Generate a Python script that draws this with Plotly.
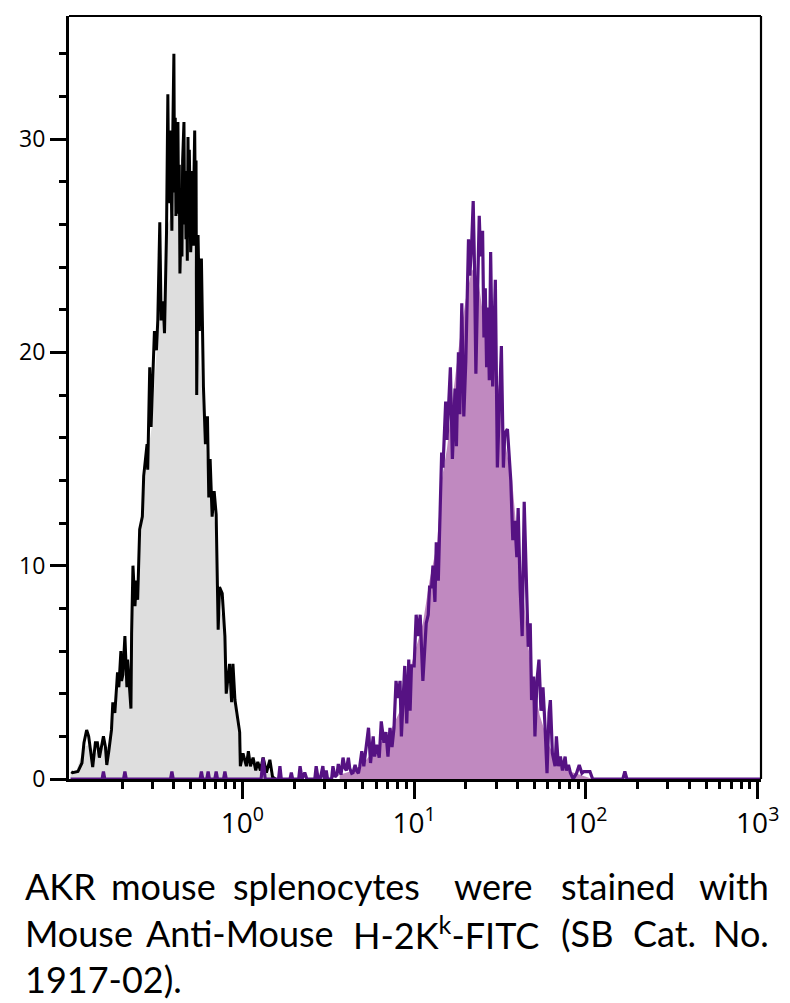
import plotly.graph_objects as go

# ---------------- data (histogram channels: 256 channels per decade, channel 0 = 10^-1) -------------
black_channels = [1, 3, 11, 17, 20, 24, 27, 32, 33, 37, 40, 43, 46, 49, 52, 54, 57, 61, 63, 66, 69, 70, 72,
                  75, 76, 78, 81, 84, 85, 88, 90, 91, 93, 96, 98, 100, 103, 107, 109, 112, 114, 115, 118,
                  120, 122, 125, 128, 130, 133, 135, 138, 140, 143, 145, 146, 148, 149, 150, 151, 152, 154,
                  155, 156, 157, 158, 160, 161, 162, 163, 164, 165, 166, 167, 169, 170, 171, 172, 173, 174,
                  175, 176, 177, 178, 179, 180, 181, 182, 183, 184, 185, 186, 187, 188, 189, 190, 191, 192,
                  193, 195, 198, 201, 204, 206, 208, 211, 214, 217, 220, 222, 226, 230, 232, 237, 240, 242,
                  245, 248, 252, 253, 257, 262, 265, 268, 272, 276, 279, 283, 287, 292, 297, 301, 305]
black_counts = [0.34, 0.3, 0.35, 0.75, 1.7, 2.3, 2.0, 0.9, 0.56, 1.7, 1.7, 1.0, 1.5, 2.0, 1.5, 0.66, 1.3,
                2.3, 3.6, 3.1, 4.5, 5.0, 4.3, 6.0, 4.6, 4.9, 6.7, 4.3, 5.6, 4.0, 3.3, 6.8, 10.0, 8.1, 9.3,
                8.4, 11.7, 12.3, 14.2, 15.1, 15.7, 14.5, 19.3, 16.5, 18.0, 21.0, 20.1, 21.5, 26.1, 21.5,
                22.4, 20.9, 25.6, 32.1, 28.5, 27.0, 30.4, 28.0, 25.7, 29.5, 34.0, 27.5, 31.0, 26.4, 27.0,
                30.8, 26.5, 28.8, 23.7, 25.0, 27.3, 24.5, 29.0, 30.8, 26.0, 28.5, 25.3, 28.0, 24.3, 30.1,
                26.8, 29.5, 26.0, 24.7, 25.5, 28.5, 27.1, 25.0, 28.5, 30.4, 26.5, 29.0, 18.0, 21.0, 25.5,
                23.7, 21.0, 24.0, 24.4, 18.4, 15.7, 17.0, 13.2, 15.0, 12.3, 13.5, 12.4, 7.0, 9.0, 8.7,
                6.7, 4.0, 5.4, 3.6, 5.4, 3.7, 3.1, 2.2, 0.6, 1.2, 0.6, 1.3, 0.6, 1.0, 0.4, 0.8, 0.4, 1.0,
                0.3, 0.9, 0.1, 0.0]

black_fill_channels = [0, 8, 20, 28, 37, 49, 58, 64, 73, 82, 90, 94, 100, 106, 113, 121, 128, 134, 140,
                       145, 151, 163, 173, 182, 188, 194, 200, 207, 215, 221, 228, 234, 243, 252, 261,
                       282, 300, 304]
black_fill_counts = [0.3, 0.3, 1.5, 1.6, 1.2, 1.5, 1.5, 3.0, 4.5, 5.0, 5.0, 8.5, 8.8, 12.0, 14.8, 16.5,
                     20.0, 22.0, 22.5, 26.0, 26.5, 26.5, 26.5, 26.0, 22.0, 19.0, 16.0, 13.5, 12.0, 8.0,
                     7.5, 4.5, 3.8, 1.5, 0.8, 0.5, 0.2, 0.0]

purple_channels = [0, 47, 49, 51, 79, 81, 83, 149, 151, 153, 193, 195, 197, 203, 205, 207, 215, 217, 219,
                   228, 230, 232, 284, 287, 290, 310, 312, 314, 327, 329, 331, 340, 342, 345, 349, 352,
                   364, 366, 369, 372, 376, 378, 381, 383, 389, 391, 394, 397, 399, 401, 403, 406, 409,
                   411, 414, 416, 419, 421, 424, 426, 429, 431, 434, 437, 441, 444, 447, 451, 453, 456,
                   460, 463, 467, 470, 473, 476, 479, 482, 485, 488, 491, 493, 496, 498, 501, 504, 506,
                   508, 512, 515, 518, 521, 525, 527, 530, 533, 535, 538, 540, 543, 545, 548, 550, 552,
                   553, 555, 559, 561, 564, 566, 569, 573, 575, 578, 580, 583, 586, 589, 593, 595, 598,
                   600, 602, 604, 606, 609, 611, 614, 616, 618, 620, 622, 624, 626, 629, 631, 633, 636,
                   639, 642, 645, 647, 651, 654, 656, 659, 662, 665, 667, 670, 673, 676, 680, 682, 685,
                   687, 690, 692, 695, 698, 701, 704, 707, 710, 713, 715, 718, 722, 724, 727, 730, 733,
                   737, 739, 742, 745, 749, 754, 758, 762, 765, 769, 774, 778, 823, 826, 829, 1029]
purple_counts = [0, 0, 0.35, 0, 0, 0.35, 0, 0, 0.35, 0, 0, 0.35, 0, 0, 0.35, 0, 0, 0.35, 0,
                 0, 0.35, 0, 0, 1.0, 0, 0, 0.6, 0, 0, 0.3, 0, 0, 0.6, 0, 0.3, 0,
                 0, 0.6, 0, 0, 0.6, 0, 0.4, 0, 0, 0.6, 0.1, 0.2, 0.7, 0.42, 0.2, 1.0, 0.5,
                 0.4, 1.0, 0.5, 0.27, 0.3, 0.66, 0.4, 0.27, 0.6, 1.3, 0.6, 1.7, 2.4, 0.75, 2.0, 1.05, 1.6,
                 1.0, 2.7, 1.7, 2.2, 1.05, 2.4, 1.5, 2.4, 4.6, 3.8, 4.6, 2.0, 4.0, 5.3, 2.6, 5.6, 3.2,
                 5.3, 5.3, 7.7, 6.7, 7.7, 4.6, 5.9, 7.3, 7.7, 9.0, 9.0, 10.0, 8.3, 11.1, 9.3, 11.7, 14.0,
                 15.3, 14.6, 17.7, 15.9, 18.4, 19.3, 15.0, 18.3, 15.6, 20.0, 17.1, 22.3, 17.0, 19.6, 25.3, 23.6, 25.3,
                 27.1, 23.9, 19.0, 22.1, 26.4, 24.5, 25.7, 20.7, 23.0, 19.3, 22.1, 18.7, 24.7, 18.4, 21.5, 23.4, 14.6,
                 17.0, 20.3, 14.6, 16.2, 16.4, 14.6, 14.0, 11.2, 12.1, 10.4, 12.7, 8.9, 6.7, 13.0, 8.9, 6.2, 7.3,
                 3.7, 4.8, 2.0, 4.6, 5.6, 3.2, 4.3, 2.5, 0.27, 3.1, 3.7, 1.2, 0.6, 2.0, 0.6, 1.05, 0.4,
                 1.05, 0.4, 0.66, 0.27, 0, 0.27, 0.66, 0.27, 0.35, 0.35, 0.35, 0, 0, 0.35, 0, 0]

purple_fill_channels = [401, 421, 438, 456, 476, 491, 501, 513, 525, 535, 546, 553, 561, 568, 580, 589,
                        598, 607, 616, 625, 632, 640, 649, 658, 665, 673, 681, 689, 699, 714, 726, 740,
                        759, 778]
purple_fill_counts = [0.2, 0.4, 0.8, 1.5, 2.2, 3.2, 4.6, 6.0, 7.3, 9.3, 11.0, 14.0, 15.5, 17.5, 20.6,
                      22.5, 23.9, 23.5, 21.5, 20.6, 19.5, 17.9, 15.5, 14.0, 11.5, 9.3, 6.5, 4.6, 3.0,
                      1.5, 0.8, 0.4, 0.2, 0.0]

x_tick_values = [1, 10, 100, 1000]
x_tick_labels = ["10<sup>0</sup>", "10<sup>1</sup>", "10<sup>2</sup>", "10<sup>3</sup>"]
y_tick_values = [0, 10, 20, 30]
y_tick_labels = ["0", "10", "20", "30"]

caption_line1 = ["AKR", "mouse", "splenocytes", "were", "stained", "with"]
caption_line2 = ["Mouse", "Anti-Mouse", "H-2K<sup>k</sup>-FITC", "(SB", "Cat.", "No."]
caption_line3 = ["1917-02)."]


def chan_to_value(chs):
    return [10 ** (c / 256.0 - 1.0) for c in chs]


# ---------------- figure -------------
W, H = 790, 1003
ML, MR, MT, MB = 69, 29, 16, 224
PW, PH = W - ML - MR, H - MT - MB


def px(x):
    return (x - ML) / PW


def py(y):
    return (H - MB - y) / PH


fig = go.Figure()

fig.add_trace(go.Scatter(x=chan_to_value(black_fill_channels), y=black_fill_counts, mode="lines",
                         line=dict(width=0), fill="tozeroy", fillcolor="#dedede", hoverinfo="skip"))
fig.add_trace(go.Scatter(x=chan_to_value(black_channels), y=black_counts, mode="lines",
                         line=dict(color="#000000", width=3)))
fig.add_trace(go.Scatter(x=chan_to_value(purple_fill_channels), y=purple_fill_counts, mode="lines",
                         line=dict(width=0), fill="tozeroy", fillcolor="#c089c0", hoverinfo="skip"))
fig.add_trace(go.Scatter(x=chan_to_value(purple_channels), y=purple_counts, mode="lines",
                         line=dict(color="#561283", width=3.2)))

minor_x = [m * 10 ** d for d in (-1, 0, 1, 2) for m in range(2, 10)]
minor_y = [v for v in range(2, 36, 2) if v % 10 != 0]

fig.update_xaxes(type="log", range=[-1.009, 3.019], showgrid=False, zeroline=False,
                 showline=True, linewidth=3, linecolor="black",
                 tickmode="array", tickvals=x_tick_values, ticktext=x_tick_labels,
                 ticks="outside", ticklen=17, tickwidth=3, tickcolor="black",
                 tickfont=dict(family="Open Sans", size=28, color="black"),
                 minor=dict(tickmode="array", tickvals=minor_x, ticks="outside", ticklen=7,
                            tickwidth=3, tickcolor="black", showgrid=False))
fig.update_yaxes(range=[0, 35.77], showgrid=False, zeroline=False,
                 showline=True, linewidth=3, linecolor="black",
                 tickmode="array", tickvals=y_tick_values, ticktext=y_tick_labels,
                 ticks="outside", ticklen=16, tickwidth=3, tickcolor="black",
                 tickfont=dict(family="Open Sans", size=23, color="black"),
                 minor=dict(tickmode="array", tickvals=minor_y, ticks="outside", ticklen=7,
                            tickwidth=3, tickcolor="black", showgrid=False))

fig.add_shape(type="line", xref="paper", yref="paper", x0=0, x1=1, y0=1, y1=1,
              line=dict(color="black", width=2.2))
fig.add_shape(type="line", xref="paper", yref="paper", x0=1, x1=1, y0=0, y1=1,
              line=dict(color="black", width=2.2))

cap_font = dict(family="Lato", size=36, color="black")
line1_pos = [(22.7, "left"), (163, "center"), (326, "center"), (493, "center"), (618, "center"), (771, "right")]
line2_pos = [(22.7, "left"), (240, "center"), (446, "center"), (587, "center"), (664.5, "center"), (771, "right")]
line3_pos = [(22.7, "left")]
for words, poss, yy in ((caption_line1, line1_pos, 886), (caption_line2, line2_pos, 933),
                        (caption_line3, line3_pos, 979)):
    for w, (xx, anc) in zip(words, poss):
        fig.add_annotation(text=w, xref="paper", yref="paper", x=px(xx), y=py(yy),
                           xanchor=anc, yanchor="middle", showarrow=False, font=cap_font)

fig.update_layout(width=W, height=H, margin=dict(l=ML, r=MR, t=MT, b=MB),
                  paper_bgcolor="white", plot_bgcolor="white", showlegend=False)

fig.write_html("out.html", config={"displayModeBar": False},
               post_script="document.body.style.margin='0';document.body.style.padding='0';")
